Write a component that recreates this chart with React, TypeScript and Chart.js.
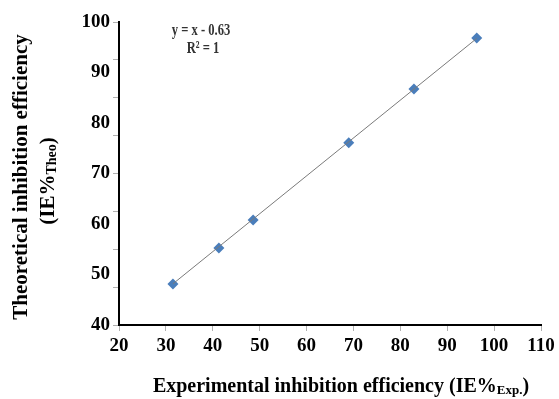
import React, { useEffect, useRef } from "react";
import { Chart, registerables } from "chart.js";
Chart.register(...registerables);

// Experimental vs theoretical inhibition efficiency (%)
const expIE = [31.5, 41.3, 48.6, 69.0, 82.9, 96.3];
const theoIE = [30.8, 40.3, 47.7, 68.1, 82.3, 95.8];
// Linear fit shown on chart: y = x - 0.63
const fitSlope = 1;
const fitIntercept = -0.63;
const fitRange = [31.5, 96.3];
// Tick labels
const xTickValues = [20, 30, 40, 50, 60, 70, 80, 90, 100, 110];
const yTickLabels = [40, 50, 60, 70, 80, 90, 100];
const equationText = "y = x - 0.63";
const r2Text = "R² = 1";
const xTitleMain = "Experimental inhibition efficiency (IE%";
const xTitleSub = "Exp.";
const yTitleLine1 = "Theoretical inhibition efficiency";
const yTitleMain = "(IE%";
const yTitleSub = "Theo";

const SERIF = "'Liberation Serif', 'Times New Roman', serif";

function drawSubText(ctx: CanvasRenderingContext2D, main: string, sub: string, tail: string, cx: number, baseY: number, mainSize: number, subSize: number) {
  ctx.font = `bold ${mainSize}px ${SERIF}`;
  const w1 = ctx.measureText(main).width;
  const w3 = ctx.measureText(tail).width;
  ctx.font = `bold ${subSize}px ${SERIF}`;
  const w2 = ctx.measureText(sub).width;
  const total = w1 + w2 + w3;
  let x = cx - total / 2;
  ctx.textAlign = "left";
  ctx.textBaseline = "alphabetic";
  ctx.font = `bold ${mainSize}px ${SERIF}`;
  ctx.fillText(main, x, baseY);
  x += w1;
  ctx.font = `bold ${subSize}px ${SERIF}`;
  ctx.fillText(sub, x, baseY + 2);
  x += w2;
  ctx.font = `bold ${mainSize}px ${SERIF}`;
  ctx.fillText(tail, x, baseY);
}

const titlesPlugin = {
  id: "customTitles",
  afterDraw(chart: any) {
    const ctx: CanvasRenderingContext2D = chart.ctx;
    ctx.save();
    ctx.fillStyle = "#000";
    // X title
    drawSubText(ctx, xTitleMain, xTitleSub, ")", 341, 392, 20, 13);
    // Y title (rotated)
    ctx.save();
    ctx.translate(22, 177);
    ctx.rotate(-Math.PI / 2);
    ctx.font = `bold 21px ${SERIF}`;
    ctx.textAlign = "center";
    ctx.textBaseline = "middle";
    ctx.fillText(yTitleLine1, 0, 0);
    ctx.restore();
    ctx.save();
    ctx.translate(47, 181);
    ctx.rotate(-Math.PI / 2);
    drawSubText(ctx, yTitleMain, yTitleSub, ")", 0, 7, 21, 14);
    ctx.restore();
    // Equation
    ctx.fillStyle = "#333";
    ctx.textAlign = "center";
    ctx.textBaseline = "middle";
    ctx.font = `bold 17px ${SERIF}`;
    ctx.save();
    ctx.translate(201, 31);
    ctx.scale(0.74, 1);
    ctx.fillText(equationText, 0, 0);
    ctx.restore();
    ctx.save();
    ctx.translate(203, 49);
    ctx.scale(0.74, 1);
    ctx.fillText(r2Text, 0, 0);
    ctx.restore();
    ctx.restore();
  },
};

export default function App() {
  const ref = useRef<HTMLCanvasElement>(null);
  useEffect(() => {
    if (!ref.current) return;
    const points = expIE.map((x, i) => ({ x, y: theoIE[i] }));
    const fit = fitRange.map((x) => ({ x, y: fitSlope * x + fitIntercept }));
    const tickFont = { family: SERIF, size: 19, weight: 700 };
    const chart = new Chart(ref.current, {
      type: "scatter",
      data: {
        datasets: [
          {
            type: "line",
            data: fit,
            borderColor: "#7a7a7a",
            borderWidth: 1,
            pointRadius: 0,
            fill: false,
            order: 0,
            xAxisID: "x",
            yAxisID: "y",
          } as any,
          {
            data: points,
            pointStyle: "rectRot",
            pointRadius: 5.5,
            backgroundColor: "#4a7ebb",
            borderColor: "#4a7ebb",
            borderWidth: 0,
            order: 1,
            xAxisID: "x",
            yAxisID: "y",
          },
        ],
      },
      options: {
        responsive: false,
        animation: false,
        events: [],
        layout: { padding: { left: 60, right: 18, top: 22, bottom: 38 } },
        plugins: { legend: { display: false }, tooltip: { enabled: false } },
        scales: {
          x: {
            type: "linear",
            min: xTickValues[0],
            max: xTickValues[xTickValues.length - 1],
            afterBuildTicks: (s: any) => {
              s.ticks = xTickValues.map((v) => ({ value: v }));
            },
            ticks: { color: "#000", font: tickFont, padding: 4, maxRotation: 0, autoSkip: false },
            grid: { drawOnChartArea: false, drawTicks: true, tickLength: 6, color: "#b0b0b0" },
            border: { color: "#000", width: 2 },
            afterFit: (s: any) => {
              s.height = 36;
            },
          },
          y: {
            type: "linear",
            position: "left",
            min: 20,
            max: 100,
            weight: 0,
            ticks: { display: false, stepSize: 10 },
            grid: { drawOnChartArea: false, drawTicks: true, tickLength: 6, color: "#b0b0b0" },
            border: { color: "#000", width: 2 },
            afterFit: (s: any) => {
              s.width = 6;
            },
          },
          yLab: {
            type: "linear",
            position: "left",
            min: yTickLabels[0],
            max: yTickLabels[yTickLabels.length - 1],
            weight: 1,
            afterBuildTicks: (s: any) => {
              s.ticks = yTickLabels.map((v) => ({ value: v }));
            },
            ticks: { color: "#000", font: tickFont, padding: 3 },
            grid: { display: false, drawTicks: false },
            border: { display: false },
            afterFit: (s: any) => {
              s.width = 53;
            },
          },
        },
      } as any,
      plugins: [titlesPlugin],
    });
    return () => chart.destroy();
  }, []);
  return (
    <div style={{ position: "absolute", left: 0, top: 0, width: 559, height: 399, background: "#fff" }}>
      <canvas ref={ref} width={559} height={399} style={{ display: "block" }} />
    </div>
  );
}
